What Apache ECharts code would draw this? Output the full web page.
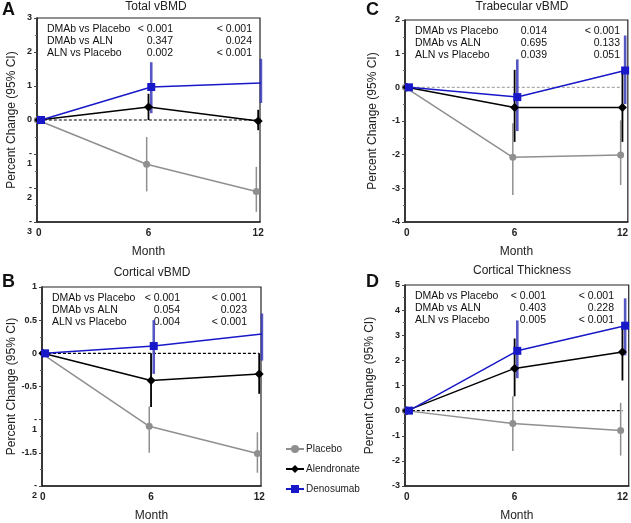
<!DOCTYPE html>
<html>
<head>
<meta charset="utf-8">
<script src="https://cdn.jsdelivr.net/npm/echarts@6/dist/echarts.min.js"></script>
<style>
  html, body { margin: 0; padding: 0; background: #fff; }
  #chart { width: 631px; height: 523px; }
</style>
</head>
<body>
<div id="chart"></div>
<script>
// shared
const months = [0, 6, 12];
const groups = ['Placebo', 'Alendronate', 'Denosumab'];
const comparisons = ['DMAb vs Placebo', 'DMAb vs ALN', 'ALN vs Placebo'];

// A - Total vBMD (mean, then [lo, hi] per month)
const totalPlacebo = [0, -1.30, -2.10];
const totalPlaceboCI = [[0, 0], [-2.10, -0.50], [-2.70, -1.38]];
const totalAlendronate = [0, 0.38, -0.03];
const totalAlendronateCI = [[0, 0], [0.00, 0.77], [-0.30, 0.30]];
const totalDenosumab = [0, 0.97, 1.09];
const totalDenosumabCI = [[0, 0], [0.20, 1.70], [0.50, 1.80]];
const totalP6 = ['< 0.001', '0.347', '0.002'];
const totalP12 = ['< 0.001', '0.024', '< 0.001'];

// B - Cortical vBMD
const cortPlacebo = [0, -1.10, -1.51];
const cortPlaceboCI = [[0, 0], [-1.50, -0.80], [-1.80, -1.19]];
const cortAlendronate = [0, -0.41, -0.31];
const cortAlendronateCI = [[0, 0], [-0.81, 0.00], [-0.61, 0.00]];
const cortDenosumab = [0, 0.11, 0.29];
const cortDenosumabCI = [[0, 0], [-0.31, 0.50], [-0.11, 0.60]];
const cortP6 = ['< 0.001', '0.054', '0.004'];
const cortP12 = ['< 0.001', '0.023', '< 0.001'];

// C - Trabecular vBMD
const trabPlacebo = [0, -2.08, -2.01];
const trabPlaceboCI = [[0, 0], [-3.20, -1.07], [-2.90, -0.98]];
const trabAlendronate = [0, -0.60, -0.60];
const trabAlendronateCI = [[0, 0], [-1.62, 0.52], [-1.62, 0.50]];
const trabDenosumab = [0, -0.29, 0.50];
const trabDenosumabCI = [[0, 0], [-1.30, 0.83], [-0.50, 1.54]];
const trabP6 = ['0.014', '0.695', '0.039'];
const trabP12 = ['< 0.001', '0.133', '0.051'];

// D - Cortical Thickness
const thickPlacebo = [0, -0.51, -0.79];
const thickPlaceboCI = [[0, 0], [-1.61, 0.57], [-1.79, 0.31]];
const thickAlendronate = [0, 1.68, 2.33];
const thickAlendronateCI = [[0, 0], [0.57, 2.87], [1.20, 3.40]];
const thickDenosumab = [0, 2.38, 3.38];
const thickDenosumabCI = [[0, 0], [1.29, 3.59], [2.20, 4.47]];
const thickP6 = ['< 0.001', '0.403', '0.005'];
const thickP12 = ['< 0.001', '0.228', '< 0.001'];

const FONT = '"Liberation Sans", Arial, sans-serif';
const colors = ['#8f8f8f', '#000000', '#1818c8'];
const barColors = ['#8f8f8f', '#000000', '#3a3ab8'];
const symbols = ['circle', 'diamond', 'rect'];
const symbolSizes = [7, 9, 8];
const dodge = [-0.1, 0, 0.15];
const barWidths = [1.5, 1.8, 2.6];

// negative integers printed with the minus on its own line, as in the source figure
function splitMinus(v) {
  if (v < 0 && Number.isInteger(v)) return '\n-\n' + Math.abs(v);
  return String(v);
}

const panels = [
  { letter: 'A', title: 'Total vBMD', grid: { left: 37, top: 18, width: 223, height: 204 },
    xMin: -0.1, xMax: 12.1, yMin: -3, yMax: 3, yStep: 1, fmt: splitMinus, zeroColor: '#000',
    means: [totalPlacebo, totalAlendronate, totalDenosumab],
    cis: [totalPlaceboCI, totalAlendronateCI, totalDenosumabCI],
    p6: totalP6, p12: totalP12, midX: 136, rightX: 215,
    letterPos: [2, 1], titleX: 156, titleY: 1, nameX: 12 },
  { letter: 'C', title: 'Trabecular vBMD', grid: { left: 405, top: 20, width: 223, height: 202 },
    xMin: -0.1, xMax: 12.3, yMin: -4, yMax: 2, yStep: 1, fmt: String, zeroColor: '#aaaaaa',
    means: [trabPlacebo, trabAlendronate, trabDenosumab],
    cis: [trabPlaceboCI, trabAlendronateCI, trabDenosumabCI],
    p6: trabP6, p12: trabP12, midX: 142, rightX: 215,
    letterPos: [366, 1], titleX: 522, titleY: 1, nameX: 373 },
  { letter: 'B', title: 'Cortical vBMD', grid: { left: 42, top: 287, width: 219, height: 206 },
    xMin: -0.05, xMax: 12.1, yMin: -2, yMax: 1, yStep: 0.5, fmt: splitMinus, zeroColor: '#000',
    means: [cortPlacebo, cortAlendronate, cortDenosumab],
    cis: [cortPlaceboCI, cortAlendronateCI, cortDenosumabCI],
    p6: cortP6, p12: cortP12, midX: 138, rightX: 205,
    letterPos: [2, 273], titleX: 152, titleY: 267, nameX: 12 },
  { letter: 'D', title: 'Cortical Thickness', grid: { left: 405, top: 285, width: 224, height: 204 },
    xMin: -0.1, xMax: 12.35, yMin: -3, yMax: 5, yStep: 1, fmt: String, zeroColor: '#000',
    means: [thickPlacebo, thickAlendronate, thickDenosumab],
    cis: [thickPlaceboCI, thickAlendronateCI, thickDenosumabCI],
    p6: thickP6, p12: thickP12, midX: 141, rightX: 209,
    letterPos: [366, 273], titleX: 522, titleY: 265, nameX: 370 }
];

const grids = [], xAxes = [], yAxes = [], series = [], titles = [], graphics = [];

panels.forEach(function (pn, i) {
  grids.push(Object.assign({ show: true, borderColor: '#222', borderWidth: 1.2, backgroundColor: 'transparent' }, pn.grid));

  xAxes.push({
    gridIndex: i, type: 'value', min: pn.xMin, max: pn.xMax,
    name: 'Month', nameLocation: 'middle', nameGap: 24,
    nameTextStyle: { fontFamily: FONT, fontSize: 12, color: '#222' },
    axisLine: { show: true, onZero: false, lineStyle: { color: '#222', width: 1.5 } },
    axisTick: { show: false },
    axisLabel: { customValues: months, fontFamily: FONT, fontSize: 10, fontWeight: 'bold', color: '#222', margin: 6 },
    splitLine: { show: false }
  });

  yAxes.push({
    gridIndex: i, type: 'value', min: pn.yMin, max: pn.yMax, interval: pn.yStep,
    name: 'Percent Change (95% CI)', nameLocation: 'middle', nameGap: pn.grid.left - pn.nameX - 6,
    nameTextStyle: { fontFamily: FONT, fontSize: 12, color: '#222' },
    axisLine: { show: true, onZero: false, lineStyle: { color: '#222', width: 1.5 } },
    axisTick: { show: true, length: 3, lineStyle: { color: '#444' } },
    minorTick: { show: true, splitNumber: 2, length: 2, lineStyle: { color: '#666' } },
    axisLabel: { formatter: pn.fmt, fontFamily: FONT, fontSize: 9, fontWeight: 'bold', color: '#222', margin: 5, lineHeight: 10 },
    splitLine: { show: false }
  });

  // dashed reference line at zero
  series.push({
    type: 'line', name: 'zero', xAxisIndex: i, yAxisIndex: i, silent: true,
    data: [[months[0], 0], [months[months.length - 1], 0]],
    symbol: 'none', lineStyle: { color: pn.zeroColor, width: 1.2, type: [3, 2] }, z: 1
  });

  groups.forEach(function (g, k) {
    const ci = pn.cis[k];
    series.push({
      type: 'custom', name: g + ' CI', xAxisIndex: i, yAxisIndex: i,
      data: months.map(function (m, j) { return [m + dodge[k], ci[j][0], ci[j][1]]; }).filter(function (d) { return d[1] !== d[2]; }),
      encode: { x: 0, y: [1, 2] },
      renderItem: function (params, api) {
        const a = api.coord([api.value(0), api.value(1)]);
        const b = api.coord([api.value(0), api.value(2)]);
        return { type: 'line', shape: { x1: a[0], y1: a[1], x2: b[0], y2: b[1] },
          style: { stroke: barColors[k], lineWidth: barWidths[k], opacity: k === 2 ? 0.85 : 1 } };
      },
      z: 2
    });
  });

  groups.forEach(function (g, k) {
    series.push({
      type: 'line', name: g, xAxisIndex: i, yAxisIndex: i,
      data: months.map(function (m, j) { return [m + (j === 0 ? dodge[k] * 0.8 : dodge[k]), pn.means[k][j]]; }),
      symbol: symbols[k], symbolSize: symbolSizes[k], showSymbol: true,
      itemStyle: { color: colors[k] }, lineStyle: { color: colors[k], width: 1.5 },
      emphasis: { disabled: true }, z: 3 + k
    });
  });

  titles.push({ text: pn.title, left: pn.titleX, top: pn.titleY, textAlign: 'center', padding: 0,
    textStyle: { fontFamily: FONT, fontSize: 12, fontWeight: 'normal', color: '#222' } });

  graphics.push({ type: 'text', left: pn.letterPos[0], top: pn.letterPos[1],
    style: { text: pn.letter, font: 'bold 18px ' + FONT, fill: '#111' } });

  comparisons.forEach(function (c, r) {
    const y = pn.grid.top + 6 + r * 12;
    graphics.push({ type: 'text', x: pn.grid.left + 10, y: y,
      style: { text: c, font: '10.5px ' + FONT, fill: '#111', textAlign: 'left' } });
    graphics.push({ type: 'text', x: pn.grid.left + pn.midX, y: y,
      style: { text: pn.p6[r], font: '10.5px ' + FONT, fill: '#111', textAlign: 'right' } });
    graphics.push({ type: 'text', x: pn.grid.left + pn.rightX, y: y,
      style: { text: pn.p12[r], font: '10.5px ' + FONT, fill: '#111', textAlign: 'right' } });
  });
});

const chart = echarts.init(document.getElementById('chart'), null, { renderer: 'canvas' });
chart.setOption({
  backgroundColor: '#fff',
  animation: false,
  title: titles,
  grid: grids,
  xAxis: xAxes,
  yAxis: yAxes,
  legend: {
    data: groups, orient: 'vertical', left: 280, top: 439, itemGap: 10,
    itemWidth: 18, itemHeight: 10,
    textStyle: { fontFamily: FONT, fontSize: 10, color: '#222', padding: [0, 0, 0, -3] }
  },
  graphic: graphics,
  series: series
});
</script>
</body>
</html>
